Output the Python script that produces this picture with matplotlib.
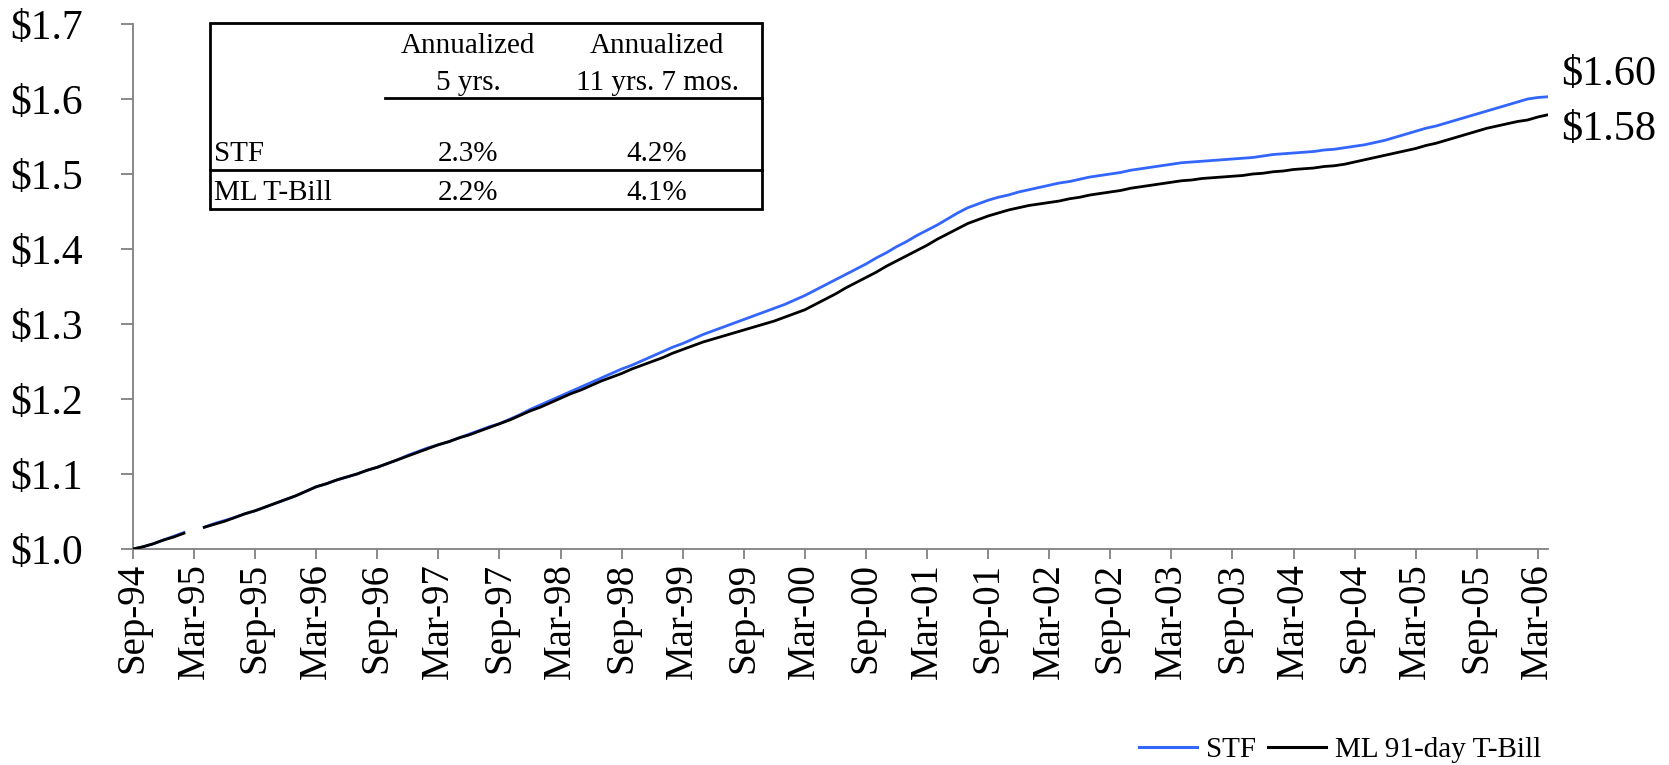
import numpy as np
import pandas as pd
import matplotlib
matplotlib.use("Agg")
import matplotlib.pyplot as plt
from matplotlib.lines import Line2D
from matplotlib.patches import Rectangle

W, H = 1669, 765

plt.rcParams.update({
    "font.family": ["Liberation Serif", "DejaVu Serif"],
    "axes.linewidth": 1.3,
})

# monthly growth of $1, Sep-94 .. Apr-06 (nan = missing month)
months = pd.date_range("1994-09-01", periods=140, freq="MS")

stf = [
    1.000, 1.003, 1.007, 1.012, 1.017, 1.022, np.nan, 1.029, 1.034, 1.038,
    1.042, 1.047, 1.051, 1.056, 1.061, 1.066, 1.071, 1.077, 1.083, 1.087,
    1.092, 1.096, 1.100, 1.105, 1.109, 1.114, 1.119, 1.125, 1.130, 1.135,
    1.139, 1.143, 1.148, 1.153, 1.158, 1.163, 1.167, 1.173, 1.179, 1.186,
    1.192, 1.198, 1.204, 1.210, 1.216, 1.222, 1.228, 1.234, 1.240, 1.245,
    1.251, 1.257, 1.263, 1.269, 1.274, 1.280, 1.286, 1.291, 1.296, 1.301,
    1.306, 1.311, 1.316, 1.321, 1.326, 1.332, 1.338, 1.345, 1.352, 1.359,
    1.366, 1.373, 1.380, 1.388, 1.395, 1.403, 1.410, 1.418, 1.425, 1.432,
    1.440, 1.448, 1.455, 1.460, 1.465, 1.469, 1.472, 1.476, 1.479, 1.482,
    1.485, 1.488, 1.490, 1.493, 1.496, 1.498, 1.500, 1.502, 1.505, 1.507,
    1.509, 1.511, 1.513, 1.515, 1.516, 1.517, 1.518, 1.519, 1.520, 1.521,
    1.522, 1.524, 1.526, 1.527, 1.528, 1.529, 1.530, 1.532, 1.533, 1.535,
    1.537, 1.539, 1.542, 1.545, 1.549, 1.553, 1.557, 1.561, 1.564, 1.568,
    1.572, 1.576, 1.580, 1.584, 1.588, 1.592, 1.596, 1.600, 1.602, 1.603,
]

tbill = [
    1.000, 1.003, 1.007, 1.012, 1.016, 1.021, np.nan, 1.029, 1.033, 1.037,
    1.042, 1.047, 1.051, 1.056, 1.061, 1.066, 1.071, 1.077, 1.083, 1.087,
    1.092, 1.096, 1.100, 1.105, 1.109, 1.114, 1.119, 1.124, 1.129, 1.134,
    1.139, 1.143, 1.148, 1.152, 1.157, 1.162, 1.167, 1.172, 1.178, 1.184,
    1.189, 1.195, 1.201, 1.207, 1.212, 1.218, 1.224, 1.229, 1.234, 1.240,
    1.245, 1.250, 1.255, 1.261, 1.266, 1.271, 1.276, 1.280, 1.284, 1.288,
    1.292, 1.296, 1.300, 1.304, 1.309, 1.314, 1.319, 1.326, 1.333, 1.340,
    1.348, 1.355, 1.362, 1.369, 1.377, 1.384, 1.391, 1.398, 1.405, 1.413,
    1.420, 1.427, 1.434, 1.439, 1.444, 1.448, 1.452, 1.455, 1.458, 1.460,
    1.462, 1.464, 1.467, 1.469, 1.472, 1.474, 1.476, 1.478, 1.481, 1.483,
    1.485, 1.487, 1.489, 1.491, 1.492, 1.494, 1.495, 1.496, 1.497, 1.498,
    1.500, 1.501, 1.503, 1.504, 1.506, 1.507, 1.508, 1.510, 1.511, 1.513,
    1.516, 1.519, 1.522, 1.525, 1.528, 1.531, 1.534, 1.538, 1.541, 1.545,
    1.549, 1.553, 1.557, 1.561, 1.564, 1.567, 1.570, 1.572, 1.576, 1.579,
]

table_cols = ["Annualized\n5 yrs.", "Annualized\n11 yrs. 7 mos."]
table_rows = ["STF", "ML T-Bill"]
table_vals = [["2.3%", "4.2%"], ["2.2%", "4.1%"]]

end_labels = ["$1.60", "$1.58"]
yticks = [1.0, 1.1, 1.2, 1.3, 1.4, 1.5, 1.6, 1.7]

BLUE = "#3366FF"
GRAY = "#808080"


def fx(px):
    return px / W


def fy(py):
    return 1 - py / H


fig = plt.figure(figsize=(W / 100, H / 100), dpi=100)
ax = fig.add_axes([fx(133), fy(549), fx(1548) - fx(133), fy(24) - fy(549)])

x = np.arange(len(months))
ax.plot(x, stf, color=BLUE, lw=2.0, zorder=2)
ax.plot(x, tbill, color="black", lw=2.0, zorder=3)

ax.set_xlim(0, len(months) - 1)
ax.set_ylim(1.0, 1.7)

ax.set_yticks(yticks)
ax.set_yticklabels([f"${v:.1f}" for v in yticks])
tick_pos = x[::6]
ax.set_xticks(tick_pos)
ax.set_xticklabels([months[i].strftime("%b-%y") for i in tick_pos], rotation=90)

for s in ["top", "right"]:
    ax.spines[s].set_visible(False)
for s in ["left", "bottom"]:
    ax.spines[s].set_color(GRAY)
ax.tick_params(axis="y", direction="out", length=9, width=1.3, color=GRAY,
               labelsize=30, pad=27)
ax.tick_params(axis="x", direction="out", length=7, width=1.3, color=GRAY,
               labelsize=28, pad=3)

# end-of-period value labels
ax.text(1.009, 1.633, end_labels[0], transform=ax.get_yaxis_transform(),
        fontsize=30.5, ha="left", va="center", clip_on=False)
ax.text(1.009, 1.559, end_labels[1], transform=ax.get_yaxis_transform(),
        fontsize=30.5, ha="left", va="center", clip_on=False)

# performance table
fig.patches.append(Rectangle((fx(210), fy(209)), fx(762) - fx(210), fy(23) - fy(209),
                             transform=fig.transFigure, fill=False, lw=2.0,
                             edgecolor="black", zorder=5))
fig.add_artist(Line2D([fx(385), fx(762)], [fy(98), fy(98)], color="black", lw=2.0))
fig.add_artist(Line2D([fx(210), fx(762)], [fy(170), fy(170)], color="black", lw=2.0))

col_x = [468, 657]
for cx, head in zip(col_x, table_cols):
    top, bottom = head.split("\n")
    fig.text(fx(cx), fy(46), top, ha="center", va="center", fontsize=21)
    fig.text(fx(cx), fy(83), bottom, ha="center", va="center", fontsize=21)
row_y = [154, 193]
for ry, name, vals in zip(row_y, table_rows, table_vals):
    fig.text(fx(214), fy(ry), name, ha="left", va="center", fontsize=21)
    for cx, v in zip(col_x, vals):
        fig.text(fx(cx), fy(ry), v, ha="center", va="center", fontsize=21)

handles = [Line2D([], [], color=BLUE, lw=2.2), Line2D([], [], color="black", lw=2.2)]
fig.legend(handles, ["STF", "ML 91-day T-Bill"], loc="center",
           bbox_to_anchor=(fx(1340), fy(750)), ncol=2, frameon=False,
           fontsize=21, handlelength=2.0, handletextpad=0.3, columnspacing=0.4,
           borderpad=0)

fig.savefig("out.png", dpi=100)
